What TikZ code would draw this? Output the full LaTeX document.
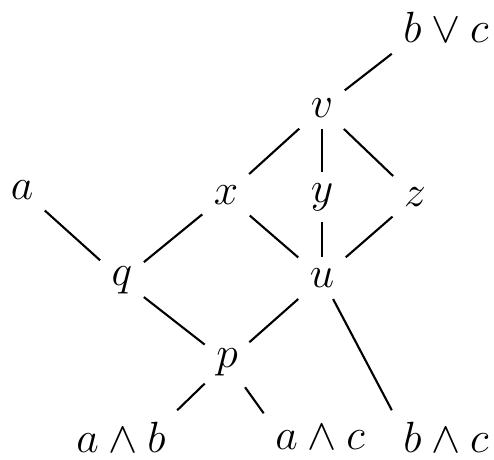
\documentclass[tikz,border=0pt]{standalone}
\usepackage{amsmath,amssymb}
\usepackage{tikz}

\begin{document}
\begin{tikzpicture}[x=0.02cm, y=-0.02cm, line width=1.2pt,
  elem/.style={inner sep=6pt, font=\fontsize{23}{26}\selectfont}]
  \useasboundingbox (0,0) rectangle (494,460);
  % elements of the lattice
  \node[elem] (bvc) at (446,27)  {$b \vee c$};
  \node[elem] (v)   at (322,108) {$v$};
  \node[elem] (a)   at (22,190)  {$a$};
  \node[elem] (x)   at (226,195) {$x$};
  \node[elem] (y)   at (322,197) {$y$};
  \node[elem] (z)   at (415,197) {$z$};
  \node[elem] (q)   at (122,280) {$q$};
  \node[elem] (u)   at (322,278) {$u$};
  \node[elem] (p)   at (227,362) {$p$};
  \node[elem] (awb) at (121,437) {$a \wedge b$};
  \node[elem] (awc) at (320,437) {$a \wedge c$};
  \node[elem] (bwc) at (446,437) {$b \wedge c$};
  % covering relations
  \draw (v) -- (bvc.south west);
  \draw (v) -- (x);
  \draw (v) -- (y);
  \draw (v) -- (z);
  \draw (a) -- (q);
  \draw (x) -- (q);
  \draw (x) -- (u);
  \draw (y) -- (u);
  \draw (z) -- (u);
  \draw (q) -- (p);
  \draw (u) -- (p);
  \draw (u) -- (bwc.north west);
  \draw (p) -- (awb.north east);
  \draw (p) -- (awc.north west);
\end{tikzpicture}
\end{document}
